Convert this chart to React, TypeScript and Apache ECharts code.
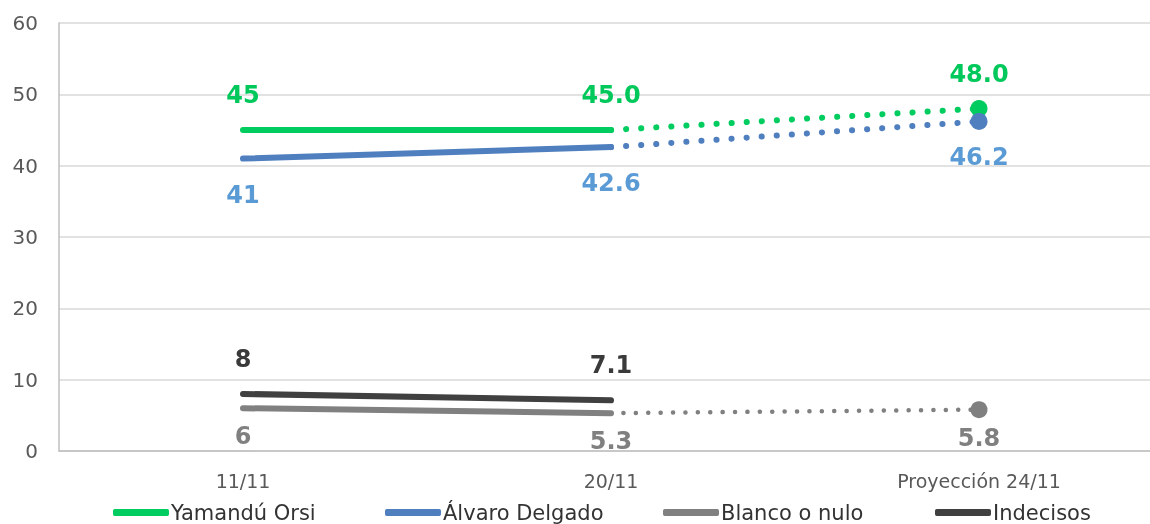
import React, { useEffect, useRef } from "react";
import * as echarts from "echarts";

const categories = ["11/11", "20/11", "Proyección 24/11"];
const yTicks = [0, 10, 20, 30, 40, 50, 60];

const orsiValues = [45, 45.0, 48.0];
const orsiLabels = ["45", "45.0", "48.0"];
const delgadoValues = [41, 42.6, 46.2];
const delgadoLabels = ["41", "42.6", "46.2"];
const blancoValues = [6, 5.3, 5.8];
const blancoLabels = ["6", "5.3", "5.8"];
const indecisosValues = [8, 7.1];
const indecisosLabels = ["8", "7.1"];

const legendNames = ["Yamandú Orsi", "Álvaro Delgado", "Blanco o nulo", "Indecisos"];

const FONT = "DejaVu Sans";

type Cfg = {
  name: string;
  values: number[];
  labels: string[];
  line: string;
  text: string;
  offsetY: number;
  dotWidth: number;
  dotGap: number;
  solidWidth: number;
};

function buildSeries(c: Cfg): any[] {
  const label = {
    show: true,
    position: "inside",
    offset: [0, c.offsetY],
    color: c.text,
    fontFamily: FONT,
    fontWeight: "bold",
    fontSize: 24,
  };
  const solidData: any[] = [0, 1].map((i) => ({
    value: c.values[i],
    symbol: "circle",
    symbolSize: 1,
    label: { ...label, formatter: () => c.labels[i] },
  }));
  const out: any[] = [
    {
      type: "line",
      name: c.name,
      data: solidData,
      lineStyle: { color: c.line, width: c.solidWidth, cap: "round" },
      itemStyle: { color: c.line },
      z: 3,
    },
  ];
  if (c.values.length > 2) {
    out.push({
      type: "line",
      name: c.name,
      data: [
        "-",
        { value: c.values[1], symbol: "none", label: { show: false } },
        {
          value: c.values[2],
          symbol: "circle",
          symbolSize: 17,
          label: { ...label, formatter: () => c.labels[2] },
        },
      ],
      lineStyle: {
        color: c.line,
        width: c.dotWidth,
        type: [0.1, c.dotGap],
        cap: "round",
      },
      itemStyle: { color: c.line },
      z: 2,
    });
  }
  return out;
}

const legendLefts = [113, 385, 663, 935];

export default function App() {
  const ref = useRef<HTMLDivElement>(null);
  useEffect(() => {
    if (!ref.current) return;
    const chart = echarts.init(ref.current, undefined, { renderer: "svg" });
    const series = [
      ...buildSeries({
        name: legendNames[0],
        values: orsiValues,
        labels: orsiLabels,
        line: "#00CC5F",
        text: "#00C85A",
        offsetY: -35,
        dotWidth: 6,
        dotGap: 15,
        solidWidth: 6,
      }),
      ...buildSeries({
        name: legendNames[1],
        values: delgadoValues,
        labels: delgadoLabels,
        line: "#4F7FBE",
        text: "#5B9BD5",
        offsetY: 36,
        dotWidth: 6,
        dotGap: 15,
        solidWidth: 6,
      }),
      ...buildSeries({
        name: legendNames[2],
        values: blancoValues,
        labels: blancoLabels,
        line: "#808080",
        text: "#808080",
        offsetY: 28,
        dotWidth: 4.5,
        dotGap: 12.3,
        solidWidth: 6,
      }),
      ...buildSeries({
        name: legendNames[3],
        values: indecisosValues,
        labels: indecisosLabels,
        line: "#404040",
        text: "#3A3A3A",
        offsetY: -35,
        dotWidth: 6,
        dotGap: 15,
        solidWidth: 6,
      }),
    ];
    chart.setOption({
      animation: false,
      grid: { left: 59, top: 23, right: 0, bottom: 73 },
      legend: legendNames.map((n, i) => ({
        data: [n],
        left: legendLefts[i],
        top: 502,
        icon: "roundRect",
        itemWidth: 56,
        itemHeight: 7,
        padding: 0,
        textStyle: {
          fontFamily: FONT,
          fontSize: 21,
          color: "#333333",
          padding: [0, 0, 0, -3],
        },
      })),
      xAxis: {
        type: "category",
        data: categories,
        boundaryGap: true,
        axisLine: { show: true, lineStyle: { color: "#BFBFBF", width: 1.5 } },
        axisTick: { show: false },
        axisLabel: {
          margin: 20,
          fontFamily: FONT,
          fontSize: 19,
          color: "#595959",
        },
        splitLine: { show: false },
      },
      yAxis: {
        type: "value",
        min: yTicks[0],
        max: yTicks[yTicks.length - 1],
        interval: 10,
        axisLine: { show: true, lineStyle: { color: "#BFBFBF", width: 1.5 } },
        axisTick: { show: false },
        axisLabel: {
          margin: 21,
          fontFamily: FONT,
          fontSize: 20,
          color: "#595959",
        },
        splitLine: { show: true, lineStyle: { color: "#D9D9D9", width: 1.5 } },
      },
      series,
    });
    return () => chart.dispose();
  }, []);
  return (
    <div
      style={{
        position: "fixed",
        left: 0,
        top: 0,
        width: 1150,
        height: 524,
        overflow: "hidden",
      }}
    >
      <div ref={ref} style={{ width: 1163, height: 524 }} />
    </div>
  );
}
